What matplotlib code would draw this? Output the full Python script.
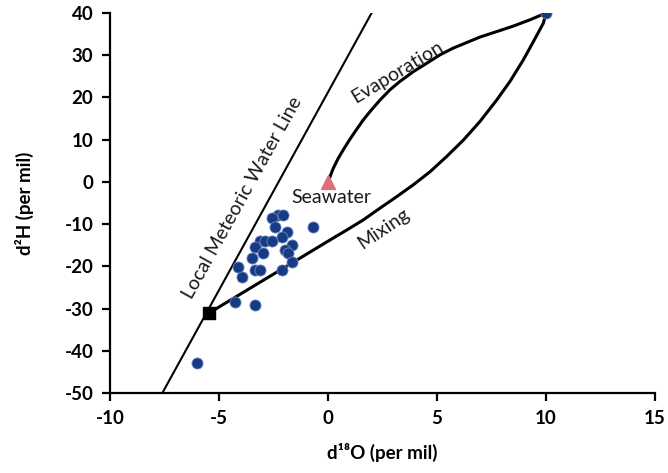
import matplotlib
matplotlib.use("Agg")
import matplotlib.pyplot as plt

plt.rcParams['font.family'] = ['Lato', 'DejaVu Sans']
plt.rcParams['axes.unicode_minus'] = False

# samples (d18O, d2H)
samp_x = [-2.28, -2.05, -2.58, -0.67, -2.43, -1.89, -3.12, -2.89, -2.58, -2.12,
          -1.67, -3.35, -1.97, -2.97, -1.82, -3.5, -1.67, -4.11, -3.35, -3.12,
          -2.12, -3.96, -4.27, -3.35, -6.02, 10.0]
samp_y = [-7.8, -7.8, -8.6, -10.6, -10.6, -11.8, -14.1, -14.1, -14.1, -13.0,
          -14.9, -15.3, -16.1, -16.9, -16.9, -18.1, -18.9, -20.1, -20.8, -20.8,
          -20.8, -22.6, -28.4, -29.1, -42.9, 40.0]

# local meteoric water line
lmwl_x = [-7.6, 2.0]
lmwl_y = [-50, 40]

# evaporation path from seawater
evap_x = [0.0, 0.24, 0.47, 0.70, 0.93, 1.24, 1.62, 2.0, 2.39, 2.84, 3.30, 3.91,
          4.53, 5.14, 5.75, 6.36, 6.97, 7.74, 8.5, 9.27, 10.0]
evap_y = [0.0, 3.2, 5.6, 7.6, 9.5, 11.9, 14.7, 17.1, 19.4, 21.8, 23.8, 26.1,
          28.1, 30.1, 31.7, 33.0, 34.3, 35.6, 36.9, 38.4, 40.0]

# mixing path from fresh end member
mix_x = [-5.44, 0.24, 0.86, 1.62, 2.39, 3.15, 3.91, 4.68, 5.44, 6.21, 6.97,
         7.74, 8.35, 8.96, 9.42, 9.88, 10.0]
mix_y = [-31.0, -13.3, -11.4, -9.0, -6.2, -3.5, -0.7, 2.4, 6.0, 9.9, 14.3,
         19.4, 23.8, 28.9, 33.2, 37.6, 40.0]

sea_x, sea_y = 0.0, 0.0
fresh_x, fresh_y = -5.44, -31.0

fig = plt.figure(figsize=(6.68, 4.73), dpi=100)
ax = fig.add_axes([0.1647, 0.1691, 0.8158, 0.8034])

ax.plot(lmwl_x, lmwl_y, color='black', lw=1.5, zorder=2)
ax.plot(evap_x, evap_y, color='black', lw=2.2, zorder=2, solid_joinstyle='round')
ax.plot(mix_x, mix_y, color='black', lw=2.2, zorder=2, solid_joinstyle='round')

ax.scatter(samp_x, samp_y, s=64, color='#173a85', edgecolor='#7088c2',
           linewidth=0.6, zorder=3)
ax.scatter([sea_x], [sea_y], marker='^', s=100, color='#d9707a', zorder=4)
ax.scatter([fresh_x], [fresh_y], marker='s', s=64, color='black', zorder=4)

ax.text(-3.92, -3.7, 'Local Meteoric Water Line', rotation=61, fontsize=14,
        ha='center', va='center', rotation_mode='anchor', color='#1a1a1a')
ax.text(3.19, 26.1, 'Evaporation', rotation=31, fontsize=14,
        ha='center', va='center', rotation_mode='anchor', color='#1a1a1a')
ax.text(2.55, -11.0, 'Mixing', rotation=34, fontsize=14,
        ha='center', va='center', rotation_mode='anchor', color='#1a1a1a')
ax.text(0.17, -3.6, 'Seawater', fontsize=14, ha='center', va='center',
        color='#1a1a1a')

ax.set_xlim(-10, 15)
ax.set_ylim(-50, 40)
ax.set_xticks(range(-10, 16, 5))
ax.set_yticks(range(-50, 41, 10))

for s in ['top', 'right']:
    ax.spines[s].set_visible(False)
for s in ['left', 'bottom']:
    ax.spines[s].set_linewidth(1.6)
ax.tick_params(direction='out', length=6, width=1.6, labelsize=13.5, pad=6)
for lab in ax.get_xticklabels() + ax.get_yticklabels():
    lab.set_fontweight('bold')

ax.set_xlabel('d¹⁸O (per mil)', fontsize=13.5, fontweight='bold', labelpad=12)
ax.set_ylabel('d²H (per mil)', fontsize=13.5, fontweight='bold', labelpad=22)

fig.savefig('out.png', dpi=100)
